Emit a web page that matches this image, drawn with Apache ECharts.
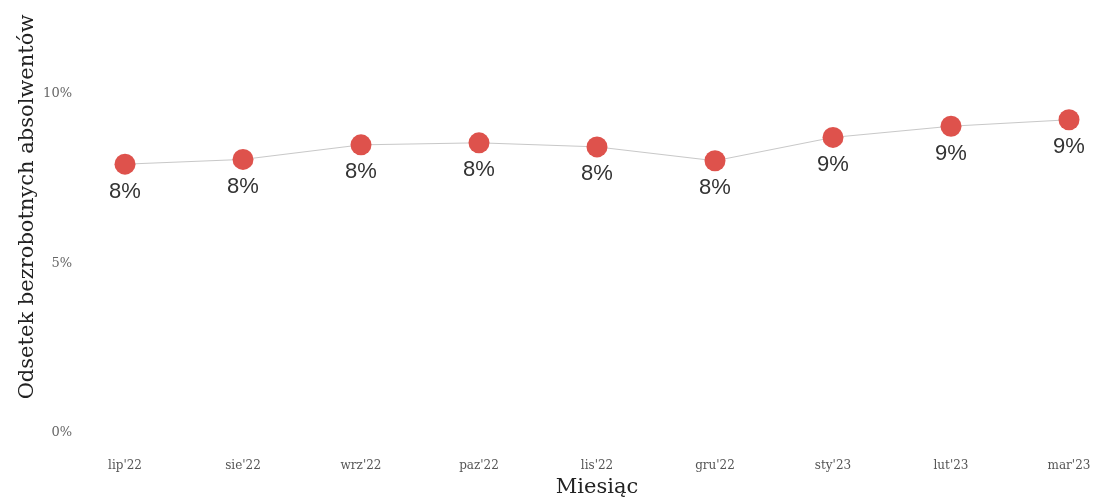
<!DOCTYPE html>
<html>
<head>
<meta charset="utf-8">
<script src="https://cdn.jsdelivr.net/npm/echarts@6/dist/echarts.min.js"></script>
<style>
  html, body { margin: 0; padding: 0; background: #fff; }
  #chart { width: 1094px; height: 498px; }
</style>
</head>
<body>
<div id="chart"></div>
<script>
// dane
const months = ["lip'22", "sie'22", "wrz'22", "paz'22", "lis'22", "gru'22", "sty'23", "lut'23", "mar'23"];
const rates = [7.93, 8.07, 8.50, 8.56, 8.44, 8.03, 8.72, 9.05, 9.24];
const rateLabels = ['8%', '8%', '8%', '8%', '8%', '8%', '9%', '9%', '9%'];
const yTicks = [0, 5, 10];

const chart = echarts.init(document.getElementById('chart'));

const option = {
  animation: false,
  backgroundColor: '#fff',
  grid: {
    left: 125,
    right: 25,
    top: 94,
    bottom: 65,
    outerBoundsMode: 'none',
    containLabel: false
  },
  xAxis: {
    type: 'category',
    data: months,
    boundaryGap: false,
    axisLine: { show: false },
    axisTick: { show: false },
    splitLine: { show: false },
    axisLabel: {
      margin: 27,
      fontFamily: 'DejaVu Serif',
      fontSize: 12,
      color: '#555'
    },
    name: 'Miesiąc',
    nameLocation: 'middle',
    nameGap: 41,
    nameTextStyle: {
      fontFamily: 'DejaVu Serif',
      fontSize: 21,
      color: '#222'
    }
  },
  yAxis: {
    type: 'value',
    min: 0,
    max: 10,
    interval: 5,
    axisLine: { show: false },
    axisTick: { show: false },
    splitLine: { show: false },
    axisLabel: {
      margin: 53,
      fontFamily: 'DejaVu Serif',
      fontSize: 13,
      color: '#666',
      formatter: function (v) {
        return yTicks.indexOf(v) >= 0 ? v + '%' : '';
      }
    }
  },
  graphic: [
    {
      type: 'text',
      x: 28,
      y: 207,
      rotation: Math.PI / 2,
      style: {
        text: 'Odsetek bezrobotnych absolwentów',
        fontFamily: 'DejaVu Serif',
        fontSize: 21,
        fill: '#222',
        align: 'center',
        verticalAlign: 'middle'
      }
    }
  ],
  series: [
    {
      type: 'line',
      data: rates,
      symbol: 'circle',
      symbolSize: 21,
      lineStyle: { color: '#c8c8c8', width: 1 },
      itemStyle: { color: '#de524c' },
      label: {
        show: true,
        position: 'bottom',
        distance: 6,
        fontFamily: 'Liberation Sans',
        fontSize: 22,
        color: '#333',
        formatter: function (p) {
          return rateLabels[p.dataIndex];
        }
      }
    }
  ]
};

chart.setOption(option);
</script>
</body>
</html>
